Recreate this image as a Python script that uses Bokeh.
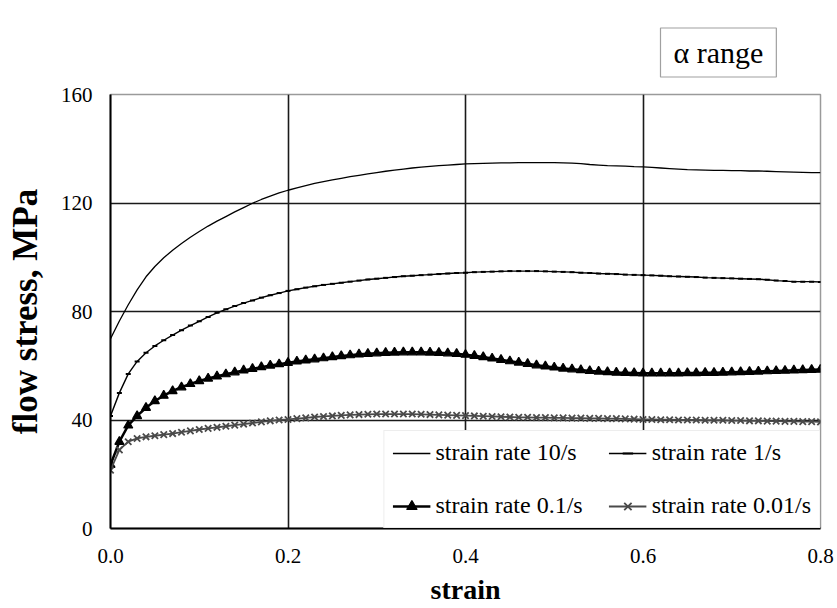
from bokeh.plotting import figure
from bokeh.models import (Range1d, FixedTicker, Legend, LegendItem,
                          PrintfTickFormatter)
from bokeh.embed import file_html
from bokeh.resources import INLINE

# ---------------- data ----------------
strain = [0.00, 0.01, 0.02, 0.03, 0.04, 0.05, 0.06, 0.07, 0.08, 0.09,
          0.10, 0.11, 0.12, 0.13, 0.14, 0.15, 0.16, 0.17, 0.18, 0.19,
          0.20, 0.21, 0.22, 0.23, 0.24, 0.25, 0.26, 0.27, 0.28, 0.29,
          0.30, 0.31, 0.32, 0.33, 0.34, 0.35, 0.36, 0.37, 0.38, 0.39,
          0.40, 0.41, 0.42, 0.43, 0.44, 0.45, 0.46, 0.47, 0.48, 0.49,
          0.50, 0.51, 0.52, 0.53, 0.54, 0.55, 0.56, 0.57, 0.58, 0.59,
          0.60, 0.61, 0.62, 0.63, 0.64, 0.65, 0.66, 0.67, 0.68, 0.69,
          0.70, 0.71, 0.72, 0.73, 0.74, 0.75, 0.76, 0.77, 0.78, 0.79,
          0.80]

stress_10 = [70.0, 76.5, 82.5, 88.0, 92.8, 96.6, 99.8, 102.6, 105.1, 107.4,
             109.5, 111.5, 113.3, 115.0, 116.7, 118.3, 119.9, 121.3, 122.5, 123.7,
             124.7, 125.6, 126.4, 127.2, 127.9, 128.5, 129.1, 129.7, 130.2, 130.7,
             131.2, 131.7, 132.1, 132.5, 132.9, 133.2, 133.5, 133.8, 134.0, 134.2,
             134.4, 134.5, 134.6, 134.7, 134.8, 134.8, 134.9, 134.9, 134.9, 134.9,
             134.9, 134.8, 134.7, 134.5, 134.2, 134.0, 133.8, 133.7, 133.6, 133.4,
             133.3, 133.1, 132.9, 132.7, 132.5, 132.3, 132.2, 132.1, 132.0, 132.0,
             131.9, 131.9, 131.8, 131.8, 131.7, 131.6, 131.5, 131.4, 131.3, 131.2,
             131.2]

stress_1 = [41.5, 50.0, 57.0, 61.6, 64.8, 67.3, 69.4, 71.3, 73.1, 74.8,
            76.4, 78.0, 79.5, 80.8, 82.0, 83.1, 84.1, 85.1, 86.0, 86.8,
            87.6, 88.2, 88.8, 89.3, 89.8, 90.2, 90.6, 91.0, 91.4, 91.8,
            92.1, 92.4, 92.7, 93.0, 93.2, 93.4, 93.6, 93.8, 94.0, 94.2,
            94.3, 94.5, 94.6, 94.7, 94.8, 94.9, 94.9, 94.9, 94.9, 94.8,
            94.7, 94.6, 94.5, 94.3, 94.2, 94.0, 93.9, 93.8, 93.6, 93.5,
            93.4, 93.3, 93.2, 93.0, 92.9, 92.8, 92.7, 92.5, 92.4, 92.3,
            92.2, 92.1, 92.0, 91.9, 91.7, 91.4, 91.2, 91.0, 91.0, 91.0,
            90.9]

stress_01 = [23.5, 32.0, 38.0, 41.5, 44.5, 47.0, 49.0, 50.7, 52.1, 53.3,
             54.4, 55.3, 56.1, 56.9, 57.6, 58.3, 58.9, 59.5, 60.1, 60.6,
             61.1, 61.6, 62.0, 62.4, 62.8, 63.2, 63.6, 63.9, 64.2, 64.4,
             64.6, 64.8, 64.9, 65.0, 65.0, 65.0, 64.9, 64.8, 64.6, 64.4,
             64.1, 63.7, 63.2, 62.7, 62.2, 61.7, 61.2, 60.7, 60.2, 59.8,
             59.4, 59.0, 58.7, 58.4, 58.1, 57.9, 57.7, 57.5, 57.4, 57.3,
             57.2, 57.2, 57.2, 57.2, 57.2, 57.3, 57.3, 57.4, 57.4, 57.5,
             57.6, 57.7, 57.8, 57.9, 58.0, 58.1, 58.2, 58.3, 58.4, 58.5,
             58.6]

stress_001 = [21.5, 29.0, 32.0, 33.2, 33.8, 34.2, 34.6, 35.0, 35.5, 36.0,
              36.5, 36.9, 37.3, 37.7, 38.1, 38.5, 38.9, 39.3, 39.7, 40.0,
              40.2, 40.5, 40.8, 41.1, 41.3, 41.5, 41.7, 41.9, 42.0, 42.1,
              42.2, 42.2, 42.2, 42.2, 42.2, 42.1, 42.0, 41.9, 41.8, 41.7,
              41.6, 41.5, 41.4, 41.3, 41.2, 41.1, 41.0, 41.0, 40.9, 40.9,
              40.8, 40.8, 40.7, 40.7, 40.6, 40.6, 40.5, 40.5, 40.4, 40.3,
              40.2, 40.2, 40.1, 40.1, 40.0, 40.0, 40.0, 39.9, 39.9, 39.9,
              39.8, 39.8, 39.7, 39.7, 39.6, 39.6, 39.5, 39.5, 39.4, 39.4,
              39.3]

series_labels = ["strain rate 10/s", "strain rate 1/s",
                 "strain rate 0.1/s", "strain rate 0.01/s"]
x_ticks = [0.0, 0.2, 0.4, 0.6, 0.8]
y_ticks = [0, 40, 80, 120, 160]
annotation_text = "\u03b1 range"

SERIF = "Liberation Serif"

# ---------------- figure ----------------
p = figure(width=837, height=608, output_backend="svg", toolbar_location=None,
           x_range=Range1d(0, 0.8), y_range=Range1d(0, 160),
           min_border_left=110, min_border_right=17,
           min_border_top=94, min_border_bottom=80)

p.background_fill_color = "white"
p.border_fill_color = "white"
p.outline_line_color = "#9a9a9a"
p.outline_line_width = 1.5

# "alpha range" boxed caption above the frame
p.title.text = annotation_text
p.title.align = "left"
p.title.offset = 550
p.title.standoff = 35
p.title.text_font = SERIF
p.title.text_font_style = "normal"
p.title.text_font_size = "30px"
p.title.text_color = "black"
p.title.background_fill_color = "white"
p.title.border_line_color = "#a0a0a0"
p.title.border_line_width = 1.2
p.title.padding = (13, 8)

# axes
p.xaxis.ticker = FixedTicker(ticks=x_ticks)
p.yaxis.ticker = FixedTicker(ticks=y_ticks)
p.xaxis.formatter = PrintfTickFormatter(format="%.1f")
for ax in (p.xaxis[0], p.yaxis[0]):
    ax.axis_line_color = "black"
    ax.axis_line_width = 2
    ax.major_tick_line_color = None
    ax.minor_tick_line_color = None
    ax.major_tick_in = 0
    ax.major_tick_out = 0
    ax.minor_tick_in = 0
    ax.minor_tick_out = 0
    ax.major_label_text_font = SERIF
    ax.major_label_text_font_size = "21px"
    ax.major_label_text_color = "black"
    ax.axis_label_text_font = SERIF
    ax.axis_label_text_font_style = "bold"
    ax.axis_label_text_color = "black"
p.xaxis.axis_label = "strain"
p.yaxis.axis_label = "flow stress, MPa"
p.xaxis.axis_label_text_font_size = "28px"
p.yaxis.axis_label_text_font_size = "35px"
p.xaxis.major_label_standoff = 20
p.yaxis.major_label_standoff = 18
p.xaxis.axis_label_standoff = 8
p.yaxis.axis_label_standoff = 13

# grid
p.xgrid.ticker = FixedTicker(ticks=x_ticks[1:-1])
p.ygrid.ticker = FixedTicker(ticks=y_ticks[1:-1])
p.xgrid.grid_line_color = "#1a1a1a"
p.ygrid.grid_line_color = "#1a1a1a"
p.xgrid.grid_line_width = 1.6
p.ygrid.grid_line_width = 1.6

# series
l10 = p.line(strain, stress_10, line_color="black", line_width=1.3)

l1 = p.line(strain, stress_1, line_color="black", line_width=1.4)
s1 = p.scatter(strain, stress_1, marker="dash", size=5, line_color="black",
               line_width=2)

l01 = p.line(strain, stress_01, line_color="black", line_width=2.5)
s01 = p.scatter(strain, stress_01, marker="triangle", size=9,
                fill_color="black", line_color="black", line_width=1.2)

l001 = p.line(strain, stress_001, line_color="#4a4a4a", line_width=1.8)
s001 = p.scatter(strain, stress_001, marker="x", size=9,
                 line_color="#4a4a4a", line_width=1.8)

legend = Legend(items=[
    LegendItem(label=series_labels[0], renderers=[l10]),
    LegendItem(label=series_labels[1], renderers=[l1, s1]),
    LegendItem(label=series_labels[2], renderers=[l01, s01]),
    LegendItem(label=series_labels[3], renderers=[l001, s001]),
])
legend.orientation = "horizontal"
legend.ncols = 2
legend.location = "bottom_right"
legend.margin = 0
legend.padding = 8
legend.spacing = 26
legend.glyph_width = 38
legend.glyph_height = 26
legend.label_height = 26
legend.label_standoff = 5
legend.label_text_font = SERIF
legend.label_text_font_size = "24px"
legend.label_text_color = "black"
legend.border_line_color = "#dcdcdc"
legend.background_fill_color = "white"
legend.background_fill_alpha = 1.0
p.add_layout(legend, "center")

open("out.html", "w").write(file_html(p, INLINE))
